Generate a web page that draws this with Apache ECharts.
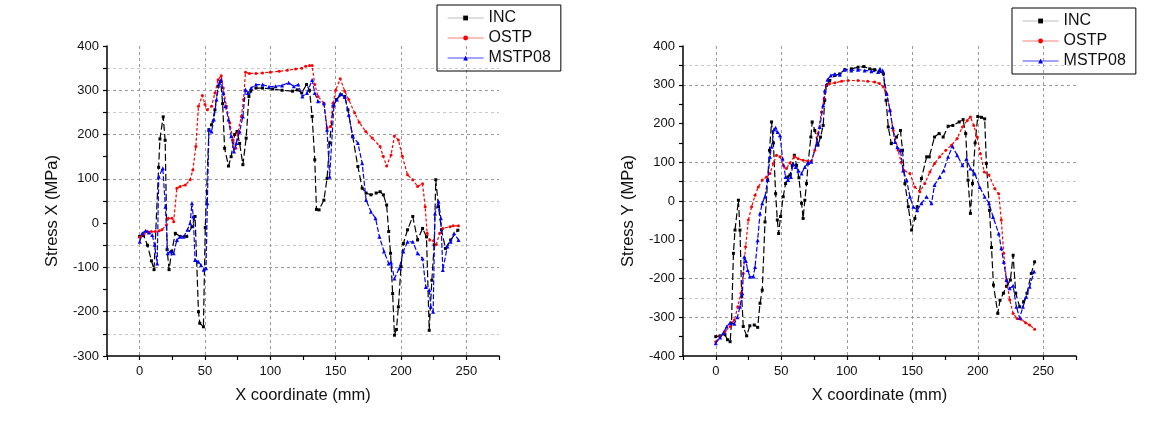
<!DOCTYPE html>
<html>
<head>
<meta charset="utf-8">
<script src="https://cdn.jsdelivr.net/npm/echarts@6/dist/echarts.min.js"></script>
<style>
html,body{margin:0;padding:0;background:#fff;}
#c{width:1149px;height:425px;}
</style>
</head>
<body>
<div id="c"></div>
<script>
const seriesNames = ['INC', 'OSTP', 'MSTP08'];
const xTitle = 'X coordinate (mm)';
const yTitles = ['Stress X (MPa)', 'Stress Y (MPa)'];

// Left chart: Stress X
const incX = [[0,-30],[3,-28],[6,-50],[9,-85],[11,-105],[14.5,126],[15.5,190],[18,240],[19.5,187],[21,-60],[22.5,-105],[24.5,-64],[27.3,-23],[31,-30],[36,-30],[40,-8],[42.4,15],[45,-200],[46,-226],[48.8,-234],[50.2,-10],[53,211],[55,222],[57.6,256],[60,309],[62,320],[63.5,270],[65,169],[68,129],[70,150],[72.7,200],[74.5,207],[76.5,180],[79,132],[81.5,192],[83.6,286],[85,298],[89,305],[94,305],[101.8,303],[109,300],[117,298],[120.7,301],[124,294],[127.7,313],[130,300],[132,241],[134,143],[135.3,31],[137.3,30],[141,52],[143.4,101],[145.4,181],[148,264],[150.5,279],[154.3,290],[157,286],[159.4,256],[163,196],[167,128],[170.3,79],[173.3,68],[177,64],[181,68],[184,71],[186.5,64],[189,41],[190.6,-19],[192,-68],[193.6,-159],[195,-253],[196.5,-240],[198,-189],[200,-98],[201.8,-46],[205,-15],[209,15],[212.7,-38],[216.5,-12],[219.5,-31],[221.6,-242],[223.6,-129],[225.4,-49],[226.6,98],[228.7,37],[231,-15],[234,-57],[238,-38],[243.5,-16]];
const ostpX = [[0,-32],[3,-25],[5.8,-19],[9,-19],[12,-19],[15,-17],[17,-15],[20.5,-4],[22,11],[24.7,11],[26,3],[28.5,79],[31,83],[35,86],[38.6,98],[40.7,120],[43,173],[45,264],[48,288],[50,268],[51.8,256],[55,264],[57.6,294],[60,324],[62.4,333],[64,305],[66.4,264],[69,226],[71.5,188],[73.5,169],[75,203],[77.8,241],[79.5,279],[81,341],[84,338],[89,338],[94,339],[100,341],[106.8,343],[113,345],[119.4,348],[124,350],[127,354],[130,356],[132,356],[134,313],[136.5,286],[141,271],[143.4,215],[146,218],[148,271],[150,300],[153.5,326],[157,298],[160,279],[164.5,249],[168,228],[173,207],[178,192],[184,173],[186.4,151],[189,129],[192.4,154],[195,197],[198,188],[201,151],[205,109],[209,98],[212.7,83],[216.5,89],[218.5,37],[220,-23],[222,-38],[225,-40],[227,-48],[229.6,-23],[232,-12],[237.5,-8],[240,-6],[244,-6]];
const mstpX = [[0,-42],[2,-23],[4.5,-17],[7,-21],[9.6,-27],[11.4,-49],[13.4,-91],[14.6,105],[17.7,124],[19.7,37],[21.5,-68],[23.5,-64],[26,-68],[28.5,-38],[31,-31],[33.6,-31],[36.6,-15],[38.6,0],[40,45],[41,15],[42.4,-83],[45,-87],[47,-95],[49,-105],[50.8,-102],[51.8,45],[53,211],[55,207],[56.8,234],[58.8,279],[61,317],[62.4,324],[64,294],[65.6,264],[68,234],[70,196],[72.2,162],[74,181],[76.5,207],[79,241],[81,302],[82.8,294],[85.3,305],[89,313],[94,313],[99,308],[104,309],[109,311],[114,317],[118,309],[121.4,313],[124.5,286],[128,294],[132,323],[134,294],[136.5,275],[141,271],[143.4,211],[145.4,105],[148.7,268],[151,279],[153.5,292],[157,285],[160,245],[163,196],[167,181],[170.3,135],[173.3,52],[177,26],[180.5,11],[183.5,-31],[187,-64],[190.6,-91],[192.4,-89],[195,-125],[198.7,-102],[201.8,-64],[205,-42],[209,-42],[212.7,-68],[216.5,-80],[219,-144],[221.6,-151],[222.8,-189],[224.6,-200],[226,22],[228.7,49],[230.5,11],[232,-106],[235.5,-53],[238,-42],[240.6,-23],[244,-38]];

// Right chart: Stress Y
const incY = [[0,-350],[3.3,-348],[7,-345],[9,-358],[11,-363],[12,-315],[13.5,-135],[14.7,-75],[17.3,2],[18.5,-75],[19.8,-247],[21,-324],[23.6,-348],[26,-322],[29.4,-320],[32,-326],[33.8,-264],[35.5,-230],[37.6,-54],[39.6,54],[41,131],[42.6,204],[44,150],[45.7,19],[47,-49],[48,-84],[49.5,-40],[51.5,11],[53.3,45],[55,62],[56.6,67],[58.4,92],[60,118],[61.7,92],[63.5,60],[65.5,-6],[66.7,-45],[68,2],[69.3,45],[70.5,97],[72.6,165],[73.6,204],[75.6,182],[78,144],[80,165],[82,195],[83.2,260],[84.5,298],[87,311],[91,324],[94.7,328],[98.5,339],[103.5,341],[108.6,345],[113,347],[117.5,341],[121.3,339],[125,335],[128,328],[130,260],[131.7,191],[134,148],[138,165],[141,182],[142.6,131],[144.4,45],[147,-15],[149.5,-75],[152,-45],[153.8,-15],[157,58],[161,114],[163,114],[167,165],[170.5,174],[173.6,165],[177.4,193],[181,195],[185.8,204],[188.8,210],[190.8,174],[192.6,54],[194.4,-32],[196,45],[198,150],[200,218],[202.8,216],[205.3,212],[206.6,97],[209,-24],[210.5,-120],[212,-217],[215.3,-290],[217,-256],[219.6,-238],[222,-220],[224.9,-204],[227,-140],[229,-238],[232,-273],[235,-260],[237.6,-238],[240.9,-187],[243.4,-157]];
const ostpY = [[0,-363],[3.3,-350],[7,-337],[11,-324],[14.2,-307],[16.8,-273],[19.3,-238],[21,-187],[22.8,-118],[24.9,-49],[27.4,-15],[30,15],[32.5,36],[35.5,54],[38.8,62],[41.4,71],[44,97],[46.4,118],[49,114],[51.5,92],[54,84],[56.6,98],[60,115],[63,109],[66.7,105],[70.5,103],[73,103],[75.6,131],[78,174],[80.7,230],[82.7,264],[84.5,298],[87,303],[91,305],[96,309],[101,311],[108.6,311],[116,309],[121.3,307],[125,303],[128,294],[130.5,277],[133,234],[135.5,182],[139.3,131],[141.5,100],[143.7,79],[148.2,71],[152,36],[155.8,24],[159.6,45],[163.5,75],[167,97],[171,114],[175.6,131],[180,144],[184.3,161],[188.3,191],[192,208],[194.4,217],[197,195],[199.5,165],[202,122],[205,75],[208.6,67],[213,32],[216,19],[218,-49],[219.8,-135],[222,-204],[224.4,-255],[227,-290],[230,-303],[233,-305],[236.5,-314],[239.6,-320],[243.4,-331]];
const mstpY = [[0,-367],[3.3,-352],[5.8,-340],[8.4,-324],[11,-314],[14.2,-317],[16.5,-300],[18.5,-273],[20.3,-238],[21.8,-144],[23,-155],[24.4,-178],[26,-195],[28.7,-195],[30,-170],[32,-101],[33.8,-32],[35.5,-6],[37.6,11],[39.6,54],[41.4,114],[42.6,140],[44.5,185],[45.7,189],[47.2,178],[49,170],[51,110],[53.3,62],[55.3,54],[57.4,62],[59,97],[61,88],[63,79],[65.5,71],[68,88],[70.5,98],[73,101],[77,148],[79.4,191],[82,247],[83.2,285],[85.3,313],[87.8,324],[91,328],[94.7,326],[98.5,339],[103.5,337],[108.6,339],[113.7,337],[118.8,335],[123.9,333],[125.4,341],[127.4,337],[130.5,277],[133,234],[135,191],[136.8,152],[138.6,139],[141,131],[143,79],[145.7,54],[148.2,11],[150.8,-15],[153.8,-24],[157,-6],[160.9,11],[164.7,-6],[167,41],[171,62],[174,79],[177.4,114],[180.7,141],[184.3,118],[188.3,92],[191.4,109],[194.4,84],[197.7,71],[201.5,36],[205.3,11],[208.6,-6],[211.7,-41],[216,-84],[218,-122],[219.8,-157],[222,-204],[224.4,-225],[227,-219],[229.5,-273],[232,-302],[234.5,-273],[237,-247],[239.6,-221],[243,-182]];

const T = 'rgba(0,0,0,0)', D = '#9a9a9a', L = '#c9c9c9';
// split line colours per 50-step tick from min
const ySplitLeft = [T,L,D,T,D,L,T,L,D,T,D,L,D,L,T];
const ySplitRight = [T,T,D,L,D,T,T,T,D,L,D,T,T,T,D,L,T];

const FONT = 'Arial, "Liberation Sans", sans-serif';
const colors = ['#000000', '#ff0000', '#0000ff'];
const legendLine = ['#bdbdbd', '#ff8080', '#4a4aff'];
const dashes = [[7,3], [3,2], [5,2]];
const symbols = ['rect', 'circle', 'triangle'];
const symSizes = [3, 3, 4];

function xAxis(gi) {
  return {
    gridIndex: gi, type: 'value', min: -25, max: 275, interval: 25,
    axisLine: { show: true, onZero: false, lineStyle: { color: '#000', width: 1.5 } },
    axisTick: { show: true, length: 4, lineStyle: { color: '#000', width: 1.2 } },
    axisLabel: { formatter: v => (v % 50 === 0 ? String(v) : ''), fontSize: 13, color: '#111', fontFamily: FONT, margin: 9 },
    splitLine: { show: true, lineStyle: { color: [T, D], type: [3, 3], width: 1 } },
    name: xTitle, nameLocation: 'middle', nameGap: 31,
    nameTextStyle: { fontSize: 16.5, color: '#111', fontFamily: FONT }
  };
}
function yAxis(gi, min, splitColors, title) {
  return {
    gridIndex: gi, type: 'value', min: min, max: 400, interval: 50,
    axisLine: { show: true, onZero: false, lineStyle: { color: '#000', width: 1.5 } },
    axisTick: { show: true, length: 4, lineStyle: { color: '#000', width: 1.2 } },
    axisLabel: { formatter: v => (v % 100 === 0 ? String(v) : ''), fontSize: 13, color: '#111', fontFamily: FONT, margin: 8 },
    splitLine: { show: true, lineStyle: { color: splitColors, type: [3, 3], width: 1 } },
    name: title, nameLocation: 'middle', nameGap: 46,
    nameTextStyle: { fontSize: 16.5, color: '#111', fontFamily: FONT, padding: [0, 20, 0, 0] }
  };
}
function mkSeries(name, idx, gi, data) {
  return {
    name: name, type: 'line', xAxisIndex: gi, yAxisIndex: gi, data: data,
    symbol: symbols[idx], symbolSize: symSizes[idx], showSymbol: true,
    lineStyle: { color: colors[idx], width: 1.2, type: dashes[idx] },
    itemStyle: { color: colors[idx] },
    animation: false, z: 2 + idx
  };
}
function legend(left, top) {
  return {
    orient: 'vertical', left: left, top: top,
    borderColor: '#000', borderWidth: 1, borderRadius: 0,
    padding: [4, 10, 4, 10], itemWidth: 36, itemHeight: 6, itemGap: 2,
    textStyle: { fontSize: 16, color: '#111', fontFamily: FONT, lineHeight: 18 },
    data: seriesNames.map((n, i) => ({ name: n, lineStyle: { color: legendLine[i], type: 'solid', width: 1.2 }, itemStyle: { color: colors[i] } })),
    selectedMode: false
  };
}

const chart = echarts.init(document.getElementById('c'), null, { renderer: 'canvas' });
chart.setOption({
  backgroundColor: '#ffffff',
  animation: false,
  grid: [
    { left: 107, top: 46, width: 392, height: 310 },
    { left: 683, top: 46, width: 393, height: 310 }
  ],
  legend: [legend(437, 5), legend(1012, 8)],
  xAxis: [xAxis(0), xAxis(1)],
  yAxis: [yAxis(0, -300, ySplitLeft, yTitles[0]), yAxis(1, -400, ySplitRight, yTitles[1])],
  series: [
    mkSeries(seriesNames[0], 0, 0, incX),
    mkSeries(seriesNames[1], 1, 0, ostpX),
    mkSeries(seriesNames[2], 2, 0, mstpX),
    mkSeries(seriesNames[0], 0, 1, incY),
    mkSeries(seriesNames[1], 1, 1, ostpY),
    mkSeries(seriesNames[2], 2, 1, mstpY)
  ]
});
</script>
</body>
</html>
